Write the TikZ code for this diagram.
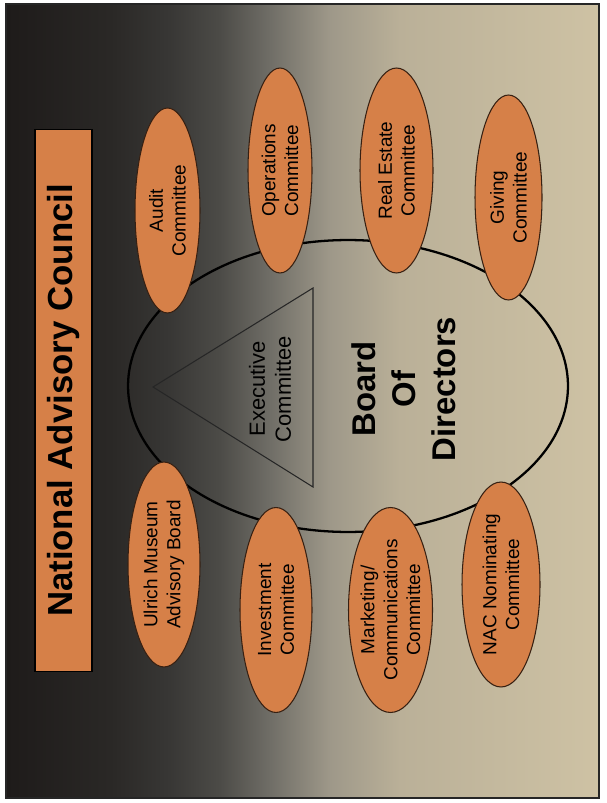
\documentclass[tikz,border=0pt]{standalone}
\usepackage{fontspec}
\setmainfont{Liberation Sans}
\usetikzlibrary{shapes.geometric}

% slide colours
\definecolor{bgA}{RGB}{30,27,26}
\definecolor{bgB}{RGB}{42,40,38}
\definecolor{bgBC}{RGB}{56,55,53}
\definecolor{bgC}{RGB}{76,75,71}
\definecolor{bgD}{RGB}{112,110,103}
\definecolor{bgE}{RGB}{158,152,137}
\definecolor{bgF}{RGB}{186,176,152}
\definecolor{bgH}{RGB}{206,194,164}
\definecolor{cmtorange}{RGB}{214,128,72}
\definecolor{cmtline}{RGB}{55,32,18}

\pgfdeclarehorizontalshading{slidebg}{100bp}{color(0bp)=(bgA); color(25bp)=(bgA); color(33.8bp)=(bgB); color(38.8bp)=(bgBC); color(43bp)=(bgC); color(47.3bp)=(bgD); color(52.3bp)=(bgE); color(58.2bp)=(bgF); color(75bp)=(bgH); color(100bp)=(bgH)}

\tikzset{
  committee/.style={ellipse, draw=cmtline, line width=0.6pt, fill=cmtorange, rotate=90,
    inner xsep=-2pt, inner ysep=-8pt, minimum width=4.1cm, align=center,
    font=\fontsize{10.8}{13}\selectfont},
  titlebar/.style={rectangle, draw=black, line width=0.6pt, fill=cmtorange, rotate=90,
    inner sep=0pt, minimum width=10.86cm, minimum height=1.14cm,
    font=\bfseries\fontsize{19.8}{24}\selectfont}
}

\begin{document}
\begin{tikzpicture}[x=0.02cm, y=-0.02cm]
                \useasboundingbox (0,0) rectangle (606,803);
                
                % Drawing slide background
                \fill [white] (0,0) rectangle (606,803);%
                \shadedraw [shading=slidebg, draw=black!85, line width=0.6pt] (6,4) rectangle (599,798);%
                
                % Marking title bar
                \node [titlebar] (nac) at (63.5,400.5) {National Advisory Council};%
                
                % Drawing board ellipse
                \node [draw, ellipse, line width=1.3pt, inner sep=0pt, minimum width=8.8cm, minimum height=5.84cm] (bod) at (348,386) {};%
                
                % Drawing executive triangle
                \coordinate (apex) at (153,387);
                \coordinate (topc) at (313,288);
                \coordinate (botc) at (313,487);
                \draw [line width=0.6pt, draw=black!85] (apex) -- (topc) -- (botc) -- cycle;%
                \node [rotate=90, align=center, text=black, font=\fontsize{12.5}{14.7}\selectfont] (exec) at (270,389) {Executive\\Committee};%
                
                % Marking board text
                \node [rotate=90, align=center, font=\bfseries\fontsize{18.7}{22.7}\selectfont] (bodtext) at (404,389) {Board\\Of\\Directors};%
                
                % Drawing upper committees
                \node [committee, minimum height=1.30cm] (audit) at (167.5,210.5) {Audit\\Committee};%
                \node [committee, minimum height=1.28cm] (ops) at (280,170.5) {Operations\\Committee};%
                \node [committee, minimum height=1.46cm] (estate) at (396.5,170.5) {Real Estate\\Committee};%
                \node [committee, minimum height=1.34cm] (giving) at (508.5,197.5) {Giving\\Committee};%
                
                % Drawing lower committees
                \node [committee, minimum height=1.44cm] (ulrich) at (164,564.5) {Ulrich Museum\\Advisory Board};%
                \node [committee, minimum height=1.44cm] (invest) at (276,610) {Investment\\Committee};%
                \node [committee, minimum height=1.68cm] (market) at (390.5,610) {Marketing/\\Communications\\Committee};%
                \node [committee, minimum height=1.56cm] (nomin) at (501,584.5) {NAC Nominating\\Committee};%
\end{tikzpicture}
\end{document}
